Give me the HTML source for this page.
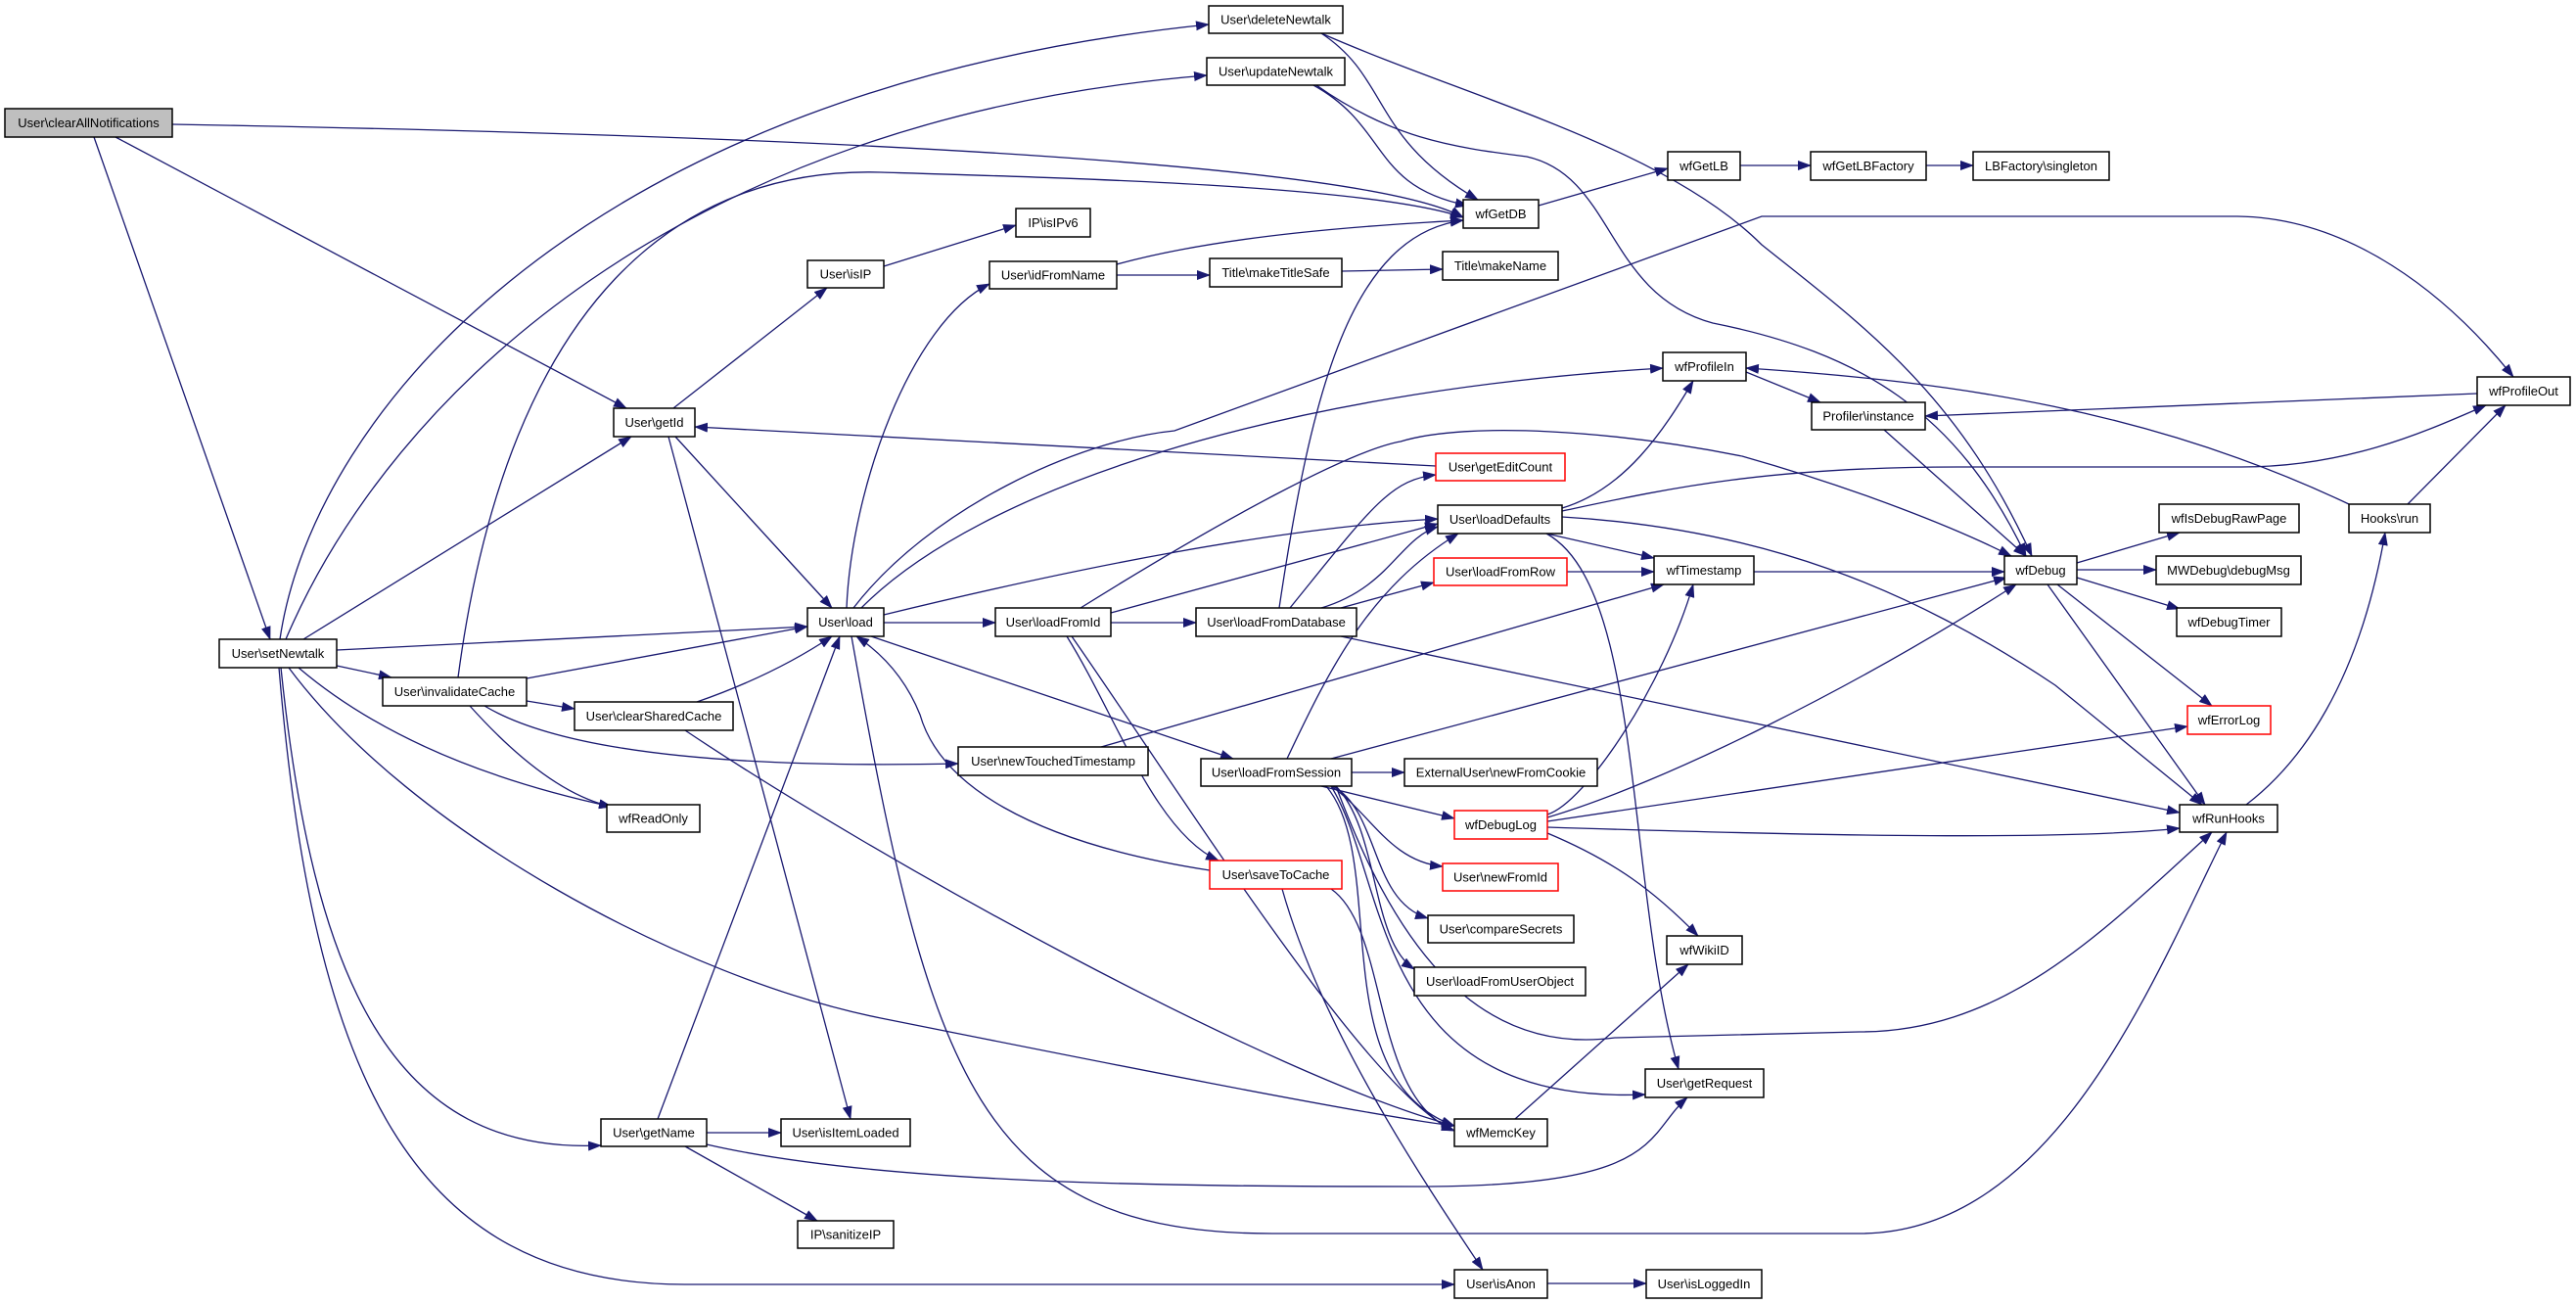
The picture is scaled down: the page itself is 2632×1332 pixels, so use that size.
<!DOCTYPE html>
<html><head><meta charset="utf-8"><style>
html,body{margin:0;padding:0;background:#fff;}
svg{display:block;}
text{font-family:"Liberation Sans",sans-serif;font-size:13px;fill:#000;text-anchor:middle;dominant-baseline:central;}
.n{fill:#fff;stroke:#000;stroke-width:1.5;}
.r{fill:#fff;stroke:#ff0000;stroke-width:1.5;}
.e{fill:none;stroke:#191970;stroke-width:1.3;marker-end:url(#a);}
</style></head><body>
<svg width="2632" height="1332" viewBox="0 0 2632 1332" xmlns="http://www.w3.org/2000/svg">
<defs><marker id="a" markerWidth="14" markerHeight="10" refX="13" refY="5" orient="auto" markerUnits="userSpaceOnUse"><path d="M0,0 L14,5 L0,10 z" fill="#191970"/></marker></defs>
<g>
<path class="e" d="M176,127 C900,140 1400,170 1495,222"/>
<path class="e" d="M118,140 L640,417"/>
<path class="e" d="M96,140 L276,653"/>
<path class="e" d="M286,653 C320,420 600,90 1235,25"/>
<path class="e" d="M292,653 C400,400 700,120 1233,77"/>
<path class="e" d="M468,692 C520,300 700,170 900,176 S1400,190 1495,222"/>
<path class="e" d="M310,653 L645,446"/>
<path class="e" d="M344,664 L825,640"/>
<path class="e" d="M344,680 L400,692"/>
<path class="e" d="M305,682 Q420,780 625,824"/>
<path class="e" d="M295,682 C420,850 700,1000 900,1040 S1400,1140 1486,1150"/>
<path class="e" d="M287,682 C320,1000 400,1180 614,1170"/>
<path class="e" d="M285,682 C320,1100 420,1312 700,1312 L1486,1312"/>
<path class="e" d="M538,693 L825,640"/>
<path class="e" d="M538,716 L587,724"/>
<path class="e" d="M480,721 Q560,810 625,824"/>
<path class="e" d="M495,721 C560,760 700,786 979,780"/>
<path class="e" d="M712,717 Q790,690 850,650"/>
<path class="e" d="M700,746 C900,880 1300,1100 1486,1150"/>
<path class="e" d="M688,417 L845,294"/>
<path class="e" d="M690,446 L850,621"/>
<path class="e" d="M683,446 L869,1143"/>
<path class="e" d="M903,272 L1038,230"/>
<path class="e" d="M865,621 C870,500 930,330 1011,290"/>
<path class="e" d="M872,621 C950,520 1100,450 1200,440 L1800,221 L2283,221 C2400,221 2500,300 2568,385"/>
<path class="e" d="M880,621 C1000,500 1300,400 1699,376"/>
<path class="e" d="M903,628 C1100,580 1300,540 1469,530"/>
<path class="e" d="M903,636 L1017,636"/>
<path class="e" d="M890,650 L1260,775"/>
<path class="e" d="M870,650 C950,1100 1000,1260 1300,1260 L1900,1260 C2100,1260 2200,1000 2275,850"/>
<path class="e" d="M672,1143 L858,650"/>
<path class="e" d="M722,1157 L798,1157"/>
<path class="e" d="M722,1169 C900,1210 1200,1212 1450,1212 S1680,1160 1724,1121"/>
<path class="e" d="M700,1171 L835,1247"/>
<path class="e" d="M1141,270 C1250,240 1400,230 1495,225"/>
<path class="e" d="M1141,281 L1236,281"/>
<path class="e" d="M1371,277 L1474,275"/>
<path class="e" d="M1350,34 C1420,80 1400,140 1510,204"/>
<path class="e" d="M1350,34 C1500,100 1700,150 1800,250 C1900,330 2000,400 2076,568"/>
<path class="e" d="M1342,87 C1420,130 1400,190 1500,210"/>
<path class="e" d="M1345,87 C1420,140 1480,150 1560,160 C1650,180 1640,300 1750,330 C1900,360 2000,420 2070,568"/>
<path class="e" d="M1572,210 L1704,172"/>
<path class="e" d="M1778,169 L1850,169"/>
<path class="e" d="M1968,169 L2016,169"/>
<path class="e" d="M1104,621 C1250,530 1380,460 1431,451 C1500,430 1650,440 1780,466 C1900,500 2000,540 2055,568"/>
<path class="e" d="M1135,626 L1469,535"/>
<path class="e" d="M1135,636 L1222,636"/>
<path class="e" d="M1090,650 C1140,730 1180,850 1245,879"/>
<path class="e" d="M1095,650 C1200,800 1400,1120 1486,1155"/>
<path class="e" d="M1307,621 C1340,400 1380,240 1495,225"/>
<path class="e" d="M1318,621 C1400,520 1420,490 1467,485"/>
<path class="e" d="M1350,621 C1420,600 1430,550 1469,538"/>
<path class="e" d="M1370,621 L1465,595"/>
<path class="e" d="M1370,650 L2227,830"/>
<path class="e" d="M1467,476 L710,436"/>
<path class="e" d="M1596,519 C1660,500 1700,440 1730,389"/>
<path class="e" d="M1596,522 C1700,500 1800,477 2000,477 L2290,477 C2400,477 2480,440 2540,414"/>
<path class="e" d="M1580,545 L1690,570"/>
<path class="e" d="M1596,528 C1800,540 1950,600 2100,700 L2250,822"/>
<path class="e" d="M1580,545 C1680,600 1660,900 1715,1092"/>
<path class="e" d="M1601,584 L1690,584"/>
<path class="e" d="M1792,584 L2048,584"/>
<path class="e" d="M1125,763 L1700,597"/>
<path class="e" d="M1315,775 C1360,680 1400,600 1490,545"/>
<path class="e" d="M1360,775 L2050,590"/>
<path class="e" d="M1381,789 L1435,789"/>
<path class="e" d="M1350,803 L1486,836"/>
<path class="e" d="M1360,803 C1400,830 1420,880 1474,885"/>
<path class="e" d="M1362,803 C1410,830 1400,920 1459,938"/>
<path class="e" d="M1365,803 C1410,850 1400,960 1445,990"/>
<path class="e" d="M1355,803 C1420,880 1350,1100 1486,1150"/>
<path class="e" d="M1360,803 C1420,900 1400,1130 1681,1118"/>
<path class="e" d="M1365,803 C1420,950 1500,1080 1650,1060 L1900,1054 C2050,1054 2150,950 2260,850"/>
<path class="e" d="M1236,889 C1050,860 960,800 940,730 Q920,680 875,650"/>
<path class="e" d="M1310,908 C1350,1050 1450,1200 1515,1297"/>
<path class="e" d="M1360,908 C1420,950 1400,1120 1486,1155"/>
<path class="e" d="M1581,832 C1620,820 1700,700 1730,597"/>
<path class="e" d="M1581,835 C1700,800 1900,700 2060,597"/>
<path class="e" d="M1581,839 L2235,742"/>
<path class="e" d="M1581,845 C1800,852 2100,860 2227,846"/>
<path class="e" d="M1581,851 C1650,880 1690,910 1735,956"/>
<path class="e" d="M1548,1143 L1725,985"/>
<path class="e" d="M1581,1311 L1682,1311"/>
<path class="e" d="M1784,380 L1860,411"/>
<path class="e" d="M2531,402 L1967,425"/>
<path class="e" d="M1925,439 L2070,568"/>
<path class="e" d="M2122,575 L2227,544"/>
<path class="e" d="M2122,582 L2203,582"/>
<path class="e" d="M2122,590 L2227,622"/>
<path class="e" d="M2102,597 L2260,721"/>
<path class="e" d="M2092,597 L2253,822"/>
<path class="e" d="M2295,822 C2350,780 2410,700 2437,544"/>
<path class="e" d="M2400,515 C2200,420 2000,390 1784,376"/>
<path class="e" d="M2460,515 L2560,414"/>
</g>
<g>
<rect x="5" y="111" width="171" height="29" fill="#bfbfbf" stroke="#000" stroke-width="1.5"/><text x="90.5" y="125.5">User\clearAllNotifications</text>
<rect class="n" x="627" y="417" width="83" height="29"/><text x="668.5" y="431.5">User\getId</text>
<rect class="n" x="825" y="266" width="78" height="28"/><text x="864" y="280">User\isIP</text>
<rect class="n" x="825" y="621" width="78" height="29"/><text x="864" y="635.5">User\load</text>
<rect class="n" x="224" y="653" width="120" height="29"/><text x="284" y="667.5">User\setNewtalk</text>
<rect class="n" x="1235" y="6" width="137" height="28"/><text x="1303.5" y="20">User\deleteNewtalk</text>
<rect class="n" x="1233" y="59" width="141" height="28"/><text x="1303.5" y="73">User\updateNewtalk</text>
<rect class="n" x="1495" y="204" width="77" height="29"/><text x="1533.5" y="218.5">wfGetDB</text>
<rect class="n" x="1704" y="155" width="74" height="29"/><text x="1741" y="169.5">wfGetLB</text>
<rect class="n" x="1850" y="155" width="118" height="29"/><text x="1909" y="169.5">wfGetLBFactory</text>
<rect class="n" x="2016" y="155" width="139" height="29"/><text x="2085.5" y="169.5">LBFactory\singleton</text>
<rect class="n" x="1038" y="213" width="76" height="29"/><text x="1076" y="227.5">IP\isIPv6</text>
<rect class="n" x="1011" y="267" width="130" height="28"/><text x="1076" y="281">User\idFromName</text>
<rect class="n" x="1236" y="264" width="135" height="29"/><text x="1303.5" y="278.5">Title\makeTitleSafe</text>
<rect class="n" x="1474" y="257" width="118" height="29"/><text x="1533" y="271.5">Title\makeName</text>
<rect class="n" x="1699" y="360" width="85" height="29"/><text x="1741.5" y="374.5">wfProfileIn</text>
<rect class="r" x="1467" y="463" width="132" height="28"/><text x="1533" y="477">User\getEditCount</text>
<rect class="n" x="1469" y="516" width="127" height="29"/><text x="1532.5" y="530.5">User\loadDefaults</text>
<rect class="r" x="1465" y="570" width="136" height="28"/><text x="1533" y="584">User\loadFromRow</text>
<rect class="n" x="1690" y="568" width="102" height="29"/><text x="1741" y="582.5">wfTimestamp</text>
<rect class="n" x="1017" y="621" width="118" height="29"/><text x="1076" y="635.5">User\loadFromId</text>
<rect class="n" x="1222" y="621" width="164" height="29"/><text x="1304" y="635.5">User\loadFromDatabase</text>
<rect class="n" x="2531" y="385" width="95" height="29"/><text x="2578.5" y="399.5">wfProfileOut</text>
<rect class="n" x="1851" y="411" width="116" height="28"/><text x="1909" y="425">Profiler\instance</text>
<rect class="n" x="2206" y="515" width="143" height="29"/><text x="2277.5" y="529.5">wfIsDebugRawPage</text>
<rect class="n" x="2400" y="515" width="83" height="29"/><text x="2441.5" y="529.5">Hooks\run</text>
<rect class="n" x="2048" y="568" width="74" height="29"/><text x="2085" y="582.5">wfDebug</text>
<rect class="n" x="2203" y="568" width="148" height="29"/><text x="2277" y="582.5">MWDebug\debugMsg</text>
<rect class="n" x="2224" y="621" width="107" height="29"/><text x="2277.5" y="635.5">wfDebugTimer</text>
<rect class="n" x="391" y="692" width="147" height="29"/><text x="464.5" y="706.5">User\invalidateCache</text>
<rect class="n" x="587" y="717" width="162" height="29"/><text x="668" y="731.5">User\clearSharedCache</text>
<rect class="n" x="620" y="822" width="95" height="28"/><text x="667.5" y="836">wfReadOnly</text>
<rect class="n" x="614" y="1143" width="108" height="28"/><text x="668" y="1157">User\getName</text>
<rect class="n" x="798" y="1143" width="132" height="28"/><text x="864" y="1157">User\isItemLoaded</text>
<rect class="n" x="815" y="1247" width="98" height="28"/><text x="864" y="1261">IP\sanitizeIP</text>
<rect class="n" x="979" y="763" width="194" height="29"/><text x="1076" y="777.5">User\newTouchedTimestamp</text>
<rect class="n" x="1227" y="775" width="154" height="28"/><text x="1304" y="789">User\loadFromSession</text>
<rect class="n" x="1435" y="775" width="197" height="28"/><text x="1533.5" y="789">ExternalUser\newFromCookie</text>
<rect class="r" x="1486" y="828" width="95" height="29"/><text x="1533.5" y="842.5">wfDebugLog</text>
<rect class="r" x="1236" y="879" width="135" height="29"/><text x="1303.5" y="893.5">User\saveToCache</text>
<rect class="r" x="1474" y="882" width="118" height="28"/><text x="1533" y="896">User\newFromId</text>
<rect class="n" x="1459" y="935" width="149" height="28"/><text x="1533.5" y="949">User\compareSecrets</text>
<rect class="n" x="1445" y="988" width="175" height="29"/><text x="1532.5" y="1002.5">User\loadFromUserObject</text>
<rect class="n" x="1703" y="956" width="77" height="29"/><text x="1741.5" y="970.5">wfWikiID</text>
<rect class="n" x="1681" y="1092" width="121" height="29"/><text x="1741.5" y="1106.5">User\getRequest</text>
<rect class="n" x="1486" y="1143" width="95" height="28"/><text x="1533.5" y="1157">wfMemcKey</text>
<rect class="n" x="1486" y="1297" width="95" height="29"/><text x="1533.5" y="1311.5">User\isAnon</text>
<rect class="n" x="1682" y="1297" width="118" height="29"/><text x="1741" y="1311.5">User\isLoggedIn</text>
<rect class="r" x="2235" y="721" width="85" height="29"/><text x="2277.5" y="735.5">wfErrorLog</text>
<rect class="n" x="2227" y="822" width="100" height="28"/><text x="2277" y="836">wfRunHooks</text>
</g>
</svg>
</body></html>
